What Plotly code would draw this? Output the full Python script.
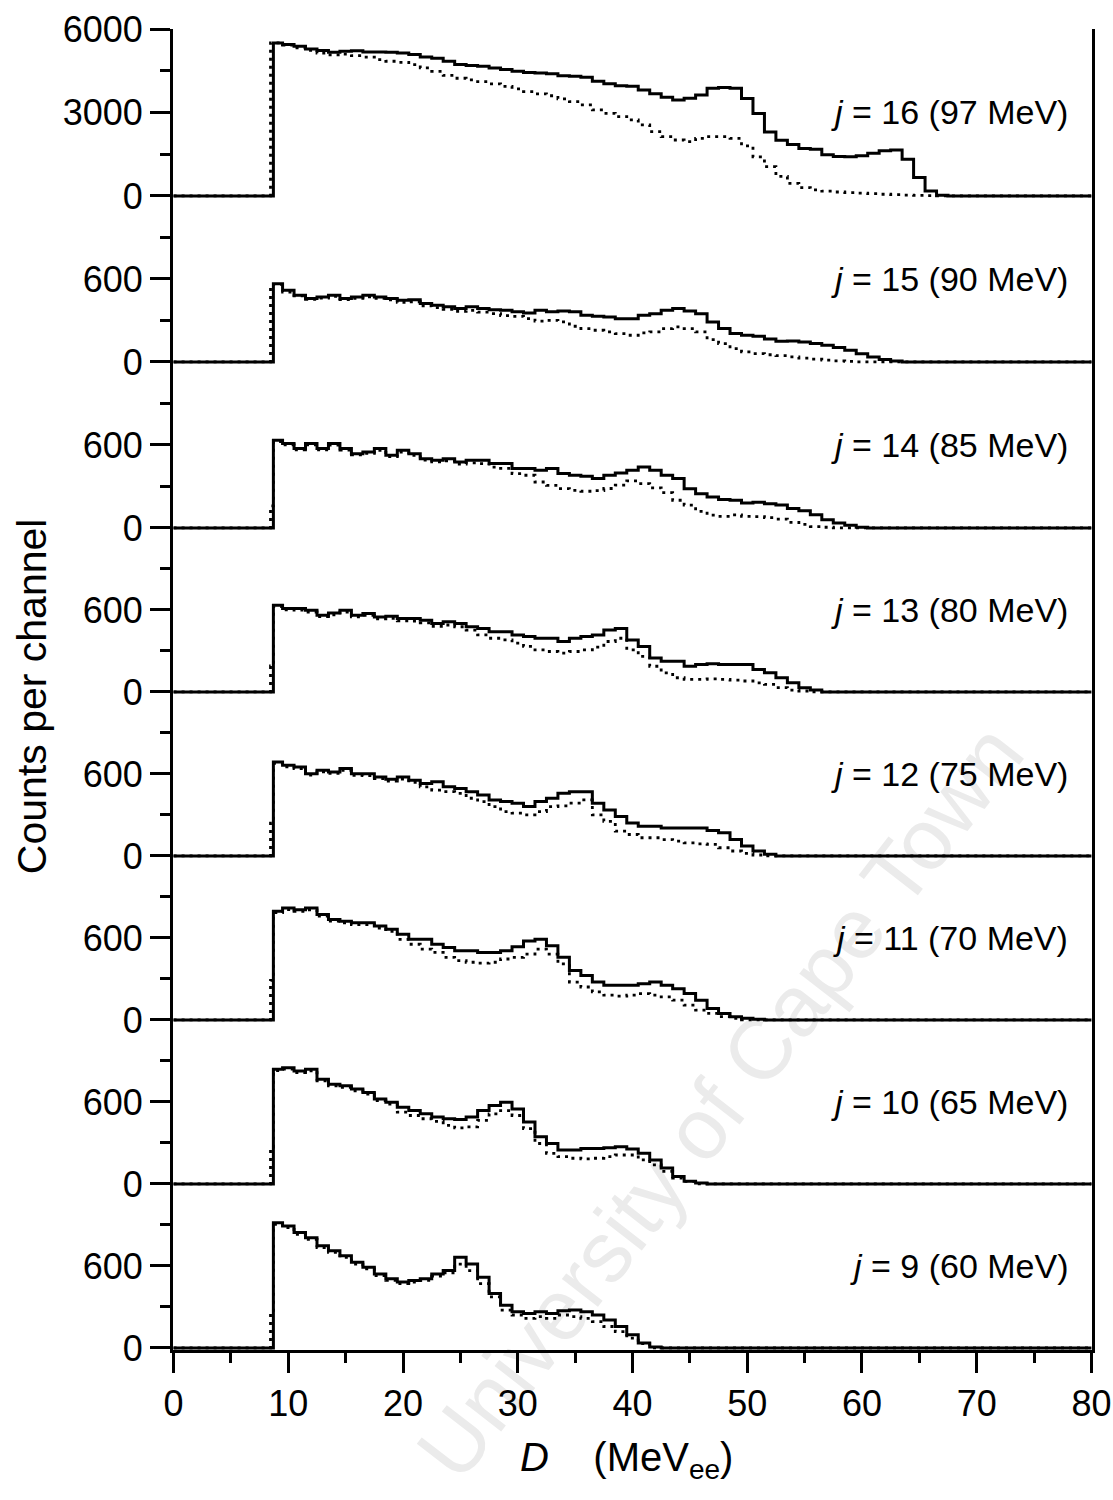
import plotly.graph_objects as go

# ---------------- data ----------------
# left edges of the histogram channels (MeVee); first channel starts at the threshold
CHANNEL_EDGES = [8.7, 9.5, 10.5, 11.5, 12.5, 13.5, 14.5, 15.5, 16.5, 17.5, 18.5,
                 19.5, 20.5, 21.5, 22.5, 23.5, 24.5, 25.5, 26.5, 27.5, 28.5,
                 29.5, 30.5, 31.5, 32.5, 33.5, 34.5, 35.5, 36.5, 37.5, 38.5,
                 39.5, 40.5, 41.5, 42.5, 43.5, 44.5, 45.5, 46.5, 47.5, 48.5,
                 49.5, 50.5, 51.5, 52.5, 53.5, 54.5, 55.5, 56.5, 57.5, 58.5,
                 59.5, 60.5, 61.5, 62.5, 63.5, 64.5, 65.5, 66.5, 67.5, 68.5, 69.5]
DOT_START = 8.45          # dotted spectra start slightly below threshold
X_MAX = 80.0

PANEL_J = [9, 10, 11, 12, 13, 14, 15, 16]
PANEL_MEV = [60, 65, 70, 75, 80, 85, 90, 97]

SOLID_J9 = [916, 892, 844, 807, 747, 711, 675, 627, 590, 542, 506, 482, 494, 506, 542, 566,
            663, 614, 518, 398, 313, 265, 253, 265, 253, 272, 277, 265, 241, 205, 157, 96,
            36, 7, 0]
DOTTED_J9 = [905, 880, 832, 795, 735, 700, 663, 614, 578, 530, 494, 470, 482, 494, 525, 550,
             614, 566, 470, 374, 277, 241, 217, 229, 217, 241, 229, 217, 193, 157, 120, 72,
             31, 0]

SOLID_J10 = [839, 851, 827, 839, 766, 730, 718, 694, 670, 622, 598, 562, 537, 513, 489, 477,
             472, 489, 537, 574, 598, 549, 453, 345, 296, 248, 248, 260, 260, 265, 272, 255,
             224, 176, 116, 55, 19, 7, 0]
DOTTED_J10 = [830, 840, 815, 828, 755, 718, 706, 682, 658, 610, 585, 525, 501, 477, 458, 429,
              410, 417, 465, 513, 537, 501, 405, 296, 224, 200, 188, 183, 188, 200, 212, 212,
              176, 140, 92, 43, 19, 0]

SOLID_J11 = [795, 819, 807, 819, 771, 735, 723, 711, 711, 687, 663, 627, 590, 590, 554, 530,
             506, 506, 494, 494, 506, 535, 578, 590, 542, 458, 361, 325, 277, 253, 253, 253,
             265, 277, 253, 229, 193, 145, 84, 48, 24, 12, 5, 0]
DOTTED_J11 = [785, 808, 795, 805, 760, 724, 710, 698, 698, 672, 648, 590, 554, 518, 494, 458,
              434, 422, 415, 422, 446, 458, 482, 518, 482, 410, 277, 241, 205, 181, 174, 181,
              193, 181, 169, 145, 108, 72, 48, 24, 12, 0]

SOLID_J12 = [687, 663, 651, 602, 627, 615, 639, 602, 602, 578, 562, 578, 554, 530, 542, 506,
             494, 470, 446, 410, 398, 386, 361, 398, 422, 458, 470, 470, 386, 337, 289, 241,
             217, 217, 205, 205, 205, 205, 186, 169, 120, 72, 36, 12, 0]
DOTTED_J12 = [678, 652, 640, 592, 615, 604, 626, 590, 588, 566, 548, 562, 538, 506, 482, 470,
              458, 422, 398, 361, 325, 313, 301, 325, 361, 366, 386, 410, 301, 253, 181, 157,
              133, 133, 120, 108, 96, 89, 84, 60, 36, 19, 7, 0]

SOLID_J13 = [634, 610, 610, 598, 562, 578, 598, 562, 574, 549, 554, 537, 537, 525, 501, 513,
             501, 477, 465, 441, 441, 417, 405, 393, 393, 369, 393, 405, 417, 453, 465, 381,
             333, 248, 224, 224, 188, 200, 207, 200, 200, 200, 164, 140, 104, 67, 31, 14, 0]
DOTTED_J13 = [625, 600, 598, 585, 552, 565, 585, 550, 560, 535, 538, 520, 518, 505, 480, 490,
              477, 453, 417, 393, 381, 357, 333, 308, 296, 284, 296, 308, 328, 369, 393, 308,
              260, 188, 140, 104, 92, 92, 96, 92, 87, 80, 67, 55, 31, 14, 7, 0]

SOLID_J14 = [634, 610, 574, 610, 574, 610, 574, 537, 549, 574, 525, 562, 537, 501, 489, 501,
             477, 489, 489, 465, 465, 429, 429, 417, 429, 393, 381, 374, 357, 381, 398, 417,
             441, 417, 381, 357, 284, 248, 224, 205, 200, 181, 185, 175, 165, 140, 125, 96,
             60, 36, 19, 5, 0]
DOTTED_J14 = [625, 600, 565, 600, 565, 598, 562, 528, 540, 560, 515, 548, 525, 490, 478, 485,
              462, 470, 465, 440, 430, 393, 381, 332, 308, 284, 272, 265, 270, 285, 310, 340,
              320, 290, 255, 200, 165, 120, 92, 84, 95, 84, 82, 74, 64, 40, 25, 10, 5, 0]

SOLID_J15 = [566, 518, 482, 458, 470, 482, 458, 470, 482, 470, 458, 446, 450, 422, 410, 398,
             386, 398, 386, 378, 374, 362, 354, 374, 362, 369, 362, 337, 330, 325, 313, 313,
             337, 349, 374, 386, 369, 349, 289, 241, 205, 193, 185, 165, 150, 152, 145, 133,
             120, 104, 84, 60, 36, 17, 7, 0]
DOTTED_J15 = [560, 505, 478, 452, 462, 474, 450, 460, 470, 460, 448, 430, 435, 405, 392, 380,
              365, 372, 360, 349, 335, 330, 313, 295, 301, 289, 258, 241, 229, 217, 205, 193,
              210, 217, 241, 253, 241, 217, 161, 133, 96, 72, 60, 52, 45, 36, 28, 20, 13, 8,
              4, 0]

SOLID_J16 = [5500, 5440, 5380, 5280, 5230, 5160, 5200, 5220, 5170, 5170, 5160, 5140, 5080,
             4990, 4950, 4840, 4720, 4690, 4660, 4600, 4540, 4480, 4440, 4420, 4390, 4320,
             4300, 4270, 4120, 4030, 3960, 3940, 3810, 3670, 3550, 3450, 3510, 3630, 3870,
             3900, 3870, 3500, 2960, 2300, 2000, 1850, 1700, 1680, 1480, 1420, 1410, 1440,
             1530, 1620, 1650, 1320, 660, 180, 20, 0]
DOTTED_J16 = [5500, 5420, 5320, 5230, 5130, 5070, 5100, 5040, 4990, 4900, 4840, 4800, 4720,
              4600, 4480, 4330, 4230, 4170, 4110, 4030, 3940, 3850, 3750, 3670, 3600, 3490,
              3390, 3270, 3090, 2970, 2850, 2730, 2550, 2310, 2130, 2010, 1950, 2070, 2130,
              2130, 2070, 1800, 1400, 1050, 700, 450, 300, 220, 170, 140, 120, 100, 80, 60,
              45, 30, 20, 10, 0]

DOTTED_LEAD = [250, 270, 290, 240, 190, 160, 540, 5500]   # j = 9 ... 16

SOLID = [SOLID_J9, SOLID_J10, SOLID_J11, SOLID_J12, SOLID_J13, SOLID_J14, SOLID_J15, SOLID_J16]
DOTTED = [DOTTED_J9, DOTTED_J10, DOTTED_J11, DOTTED_J12, DOTTED_J13, DOTTED_J14, DOTTED_J15,
          DOTTED_J16]

LOW_TICKS = [0, 600]
LOW_MINOR = [300, 900]
TOP_TICKS = [0, 3000, 6000]
TOP_MINOR = [1500, 4500]

# ---------------- figure ----------------
FONT = "Liberation Sans, Arial, Helvetica, sans-serif"
N = len(PANEL_J)
X_RANGE = [-0.05, X_MAX + 0.05]
# vertical extent of each stacked panel (paper fractions, bottom panel first)
PANEL_DOMAINS = [[0.0, 0.12415], [0.12415, 0.24830], [0.24830, 0.37245],
                 [0.37245, 0.49659], [0.49659, 0.62074], [0.62074, 0.74640],
                 [0.74640, 0.87207], [0.87207, 1.0]]


def solid_xy(vals):
    xs = [0.0] + CHANNEL_EDGES[:len(vals)] + [X_MAX]
    ys = [0.0] + list(vals) + [0.0]
    return xs, ys


def dotted_xy(vals, lead):
    xs = [0.0, DOT_START] + CHANNEL_EDGES[:len(vals)] + [X_MAX]
    ys = [0.0, lead] + list(vals) + [0.0]
    return xs, ys


fig = go.Figure()
for k in range(N):
    yref = "y" if k == 0 else f"y{k + 1}"
    xd, yd = dotted_xy(DOTTED[k], DOTTED_LEAD[k])
    fig.add_trace(go.Scatter(x=xd, y=yd, mode="lines", line_shape="hv", yaxis=yref,
                             line=dict(color="black", width=2.8, dash="3px,5px"),
                             hoverinfo="skip", showlegend=False))
    xs, ys = solid_xy(SOLID[k])
    fig.add_trace(go.Scatter(x=xs, y=ys, mode="lines", line_shape="hv", yaxis=yref,
                             line=dict(color="black", width=3),
                             hoverinfo="skip", showlegend=False))

layout = dict(
    width=1113, height=1500,
    margin=dict(l=173, r=21, t=29, b=150, autoexpand=False),
    paper_bgcolor="white", plot_bgcolor="white",
    showlegend=False,
    font=dict(family=FONT, color="black", size=34),
)

tick_common = dict(tickcolor="black", tickwidth=2.5, ticklen=20,
                   tickfont=dict(family=FONT, size=36, color="black"))

layout["xaxis"] = dict(
    anchor="y", domain=[0, 1], range=X_RANGE, tickmode="linear", tick0=0, dtick=10,
    ticks="outside", showline=True, linecolor="black", linewidth=3, automargin=False,
    showgrid=False, zeroline=False, mirror=False, ticklabeloverflow="allow",
    minor=dict(dtick=5, tick0=0, ticks="outside", ticklen=10, tickwidth=2.5,
               tickcolor="black", showgrid=False),
    **tick_common)
layout["xaxis2"] = dict(
    overlaying="x", anchor=f"y{N}", side="top", range=X_RANGE, tickmode="linear",
    tick0=0, dtick=10, automargin=False,
    ticks="inside", showticklabels=False, showline=True, linecolor="black",
    linewidth=3, showgrid=False, zeroline=False,
    minor=dict(dtick=5, tick0=0, ticks="inside", ticklen=10, tickwidth=2.5,
               tickcolor="black", showgrid=False),
    tickcolor="black", tickwidth=2.5, ticklen=20)

for k in range(N):
    name = "yaxis" if k == 0 else f"yaxis{k + 1}"
    top = (k == N - 1)
    rng = [-75, 6000] if top else [-15, 1185]
    tv = TOP_TICKS if top else LOW_TICKS
    mv = TOP_MINOR if top else LOW_MINOR
    layout[name] = dict(
        anchor="x", domain=PANEL_DOMAINS[k], range=rng, tickvals=tv,
        ticktext=[str(v) for v in tv], ticks="outside", showline=True, automargin=False,
        linecolor="black", linewidth=3, mirror=True, showgrid=False, zeroline=False,
        minor=dict(tickvals=mv, ticks="outside", ticklen=10, tickwidth=2.5,
                   tickcolor="black", showgrid=False),
        **tick_common)
    # right-hand inward ticks
    base = "y" if k == 0 else f"y{k + 1}"
    layout[f"yaxis{N + k + 1}"] = dict(
        overlaying=base, anchor="x", side="right", range=rng, tickvals=tv,
        ticks="inside", showticklabels=False, showline=False, showgrid=False,
        zeroline=False, tickcolor="black", tickwidth=2.5, ticklen=20, automargin=False,
        minor=dict(tickvals=mv, ticks="inside", ticklen=10, tickwidth=2.5,
                   tickcolor="black", showgrid=False))

annotations = []
for k in range(N):
    yref = "y" if k == 0 else f"y{k + 1}"
    ylab = 3000 if k == N - 1 else 600
    annotations.append(dict(
        x=78.1, y=ylab, xref="x", yref=yref, xanchor="right", yanchor="middle",
        text=f"<i>j</i> = {PANEL_J[k]} ({PANEL_MEV[k]} MeV)", showarrow=False,
        font=dict(family=FONT, size=34, color="black")))

annotations.append(dict(
    x=-0.1534, y=0.495, xref="paper", yref="paper", xanchor="center", yanchor="middle",
    text="Counts per channel", textangle=-90, showarrow=False,
    font=dict(family=FONT, size=41, color="black")))
annotations.append(dict(
    x=0.494, y=-0.0833, xref="paper", yref="paper", xanchor="center", yanchor="middle",
    text="<i>D</i>\u00a0\u00a0\u00a0\u00a0(MeV<sub>ee</sub>)", showarrow=False,
    font=dict(family=FONT, size=40, color="black")))
layout["annotations"] = annotations

# faint repository watermark, drawn beneath the data
layout["shapes"] = [dict(
    type="line", xref="paper", yref="paper", x0=0.262, y0=-0.100, x1=0.914, y1=0.484,
    line=dict(width=0), layer="below",
    label=dict(text="University of Cape Town", textposition="middle",
               yanchor="middle", font=dict(family=FONT, size=86, color="#ebebeb")))]

fig.update_layout(**layout)
fig.write_html("out.html")
